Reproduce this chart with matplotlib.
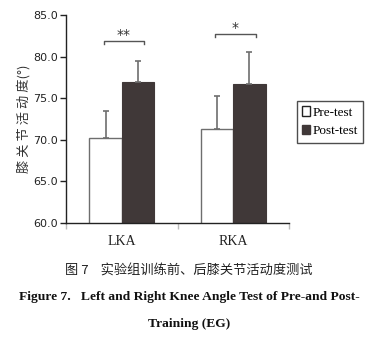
import matplotlib
matplotlib.use("Agg")
import matplotlib.pyplot as plt
import numpy as np
from matplotlib.patches import Patch

categories = ["LKA", "RKA"]
pre_values = [70.2, 71.3]
post_values = [76.9, 76.7]
pre_err = [3.2, 4.0]
post_err = [2.6, 3.8]
sig_labels = ["**", "*"]
sig_heights = [81.9, 82.7]
yticks = [60.0, 65.0, 70.0, 75.0, 80.0, 85.0]

fig = plt.figure(figsize=(3.78, 3.54), dpi=100)
ax = fig.add_axes([0.1746, 0.371, 0.59, 0.5867])

x = np.arange(len(categories))
w = 0.29
grey = "#6e6e6e"
dark = "#403838"
ax.bar(x - w / 2, pre_values, w, color="white", edgecolor=grey, linewidth=1.0, zorder=2)
ax.bar(x + w / 2, post_values, w, color=dark, edgecolor=dark, linewidth=0.8, zorder=2)
ax.errorbar(x - w / 2, pre_values, yerr=[np.zeros(2), pre_err], fmt="none",
            ecolor=grey, elinewidth=1.2, capsize=2.5, capthick=1.2, zorder=3)
ax.errorbar(x + w / 2, post_values, yerr=[np.zeros(2), post_err], fmt="none",
            ecolor=grey, elinewidth=1.2, capsize=2.5, capthick=1.2, zorder=3)

for xi, lab, h in zip(x, sig_labels, sig_heights):
    x0, x1 = xi - 0.16, xi + 0.2
    ax.plot([x0, x0, x1, x1], [h - 0.35, h, h, h - 0.35], color="#555555", lw=1.0, clip_on=False)
    ax.text((x0 + x1) / 2, h - 0.1, lab, ha="center", va="bottom", fontsize=10,
            color="#333333", family="DejaVu Sans")

ax.set_xlim(-0.5, 1.5)
ax.set_ylim(60, 85)
ax.set_yticks(yticks)
ax.set_yticklabels([f"{v:.1f}" for v in yticks], fontsize=8, family="DejaVu Sans", color="#222222")
ax.set_xticks(x)
ax.set_xticklabels(categories, fontsize=10, family="Liberation Serif", color="#222222")
ax.tick_params(axis="x", length=0, pad=9)
ax.set_xticks([-0.5, 0.5, 1.5], minor=True)
ax.tick_params(axis="x", which="minor", length=4, color="#bbbbbb", width=1)
ax.tick_params(axis="y", length=4, color="#222222", width=1, pad=2)
for s in ["top", "right"]:
    ax.spines[s].set_visible(False)
ax.spines["left"].set_color("#222222")
ax.spines["bottom"].set_color("#222222")
ax.spines["left"].set_linewidth(1.0)
ax.spines["bottom"].set_linewidth(1.0)

ax.set_ylabel("膝 关 节 活 动 度(°)", fontsize=9.5, family=["Noto Sans CJK SC", "DejaVu Sans"],
              color="#333333", labelpad=2)

handles = [Patch(facecolor="white", edgecolor="#222222", label="Pre-test"),
           Patch(facecolor=dark, edgecolor=dark, label="Post-test")]
leg = fig.legend(handles=handles, loc="upper left", bbox_to_anchor=(297 / 378, 1 - 101 / 354),
                 prop={"family": "Liberation Serif", "size": 9.5}, frameon=True, fancybox=False,
                 edgecolor="#222222", handlelength=0.6, handleheight=0.7, handletextpad=0.2,
                 borderpad=0.4, labelspacing=0.5, borderaxespad=0)
leg.get_frame().set_linewidth(1.0)

fig.text(0.5, 1 - 271 / 354, "图 7    实验组训练前、后膝关节活动度测试", ha="center", va="center",
         fontsize=9.5, family=["Noto Sans CJK SC", "DejaVu Sans"], fontweight="medium", color="#222222")
fig.text(0.5, 1 - 297 / 354, "Figure 7.   Left and Right Knee Angle Test of Pre-and Post-",
         ha="center", va="center", fontsize=9.7, family="Liberation Serif", fontweight="bold", color="#111111")
fig.text(0.5, 1 - 324 / 354, "Training (EG)", ha="center", va="center",
         fontsize=9.7, family="Liberation Serif", fontweight="bold", color="#111111")

fig.savefig("out.png", dpi=100)
